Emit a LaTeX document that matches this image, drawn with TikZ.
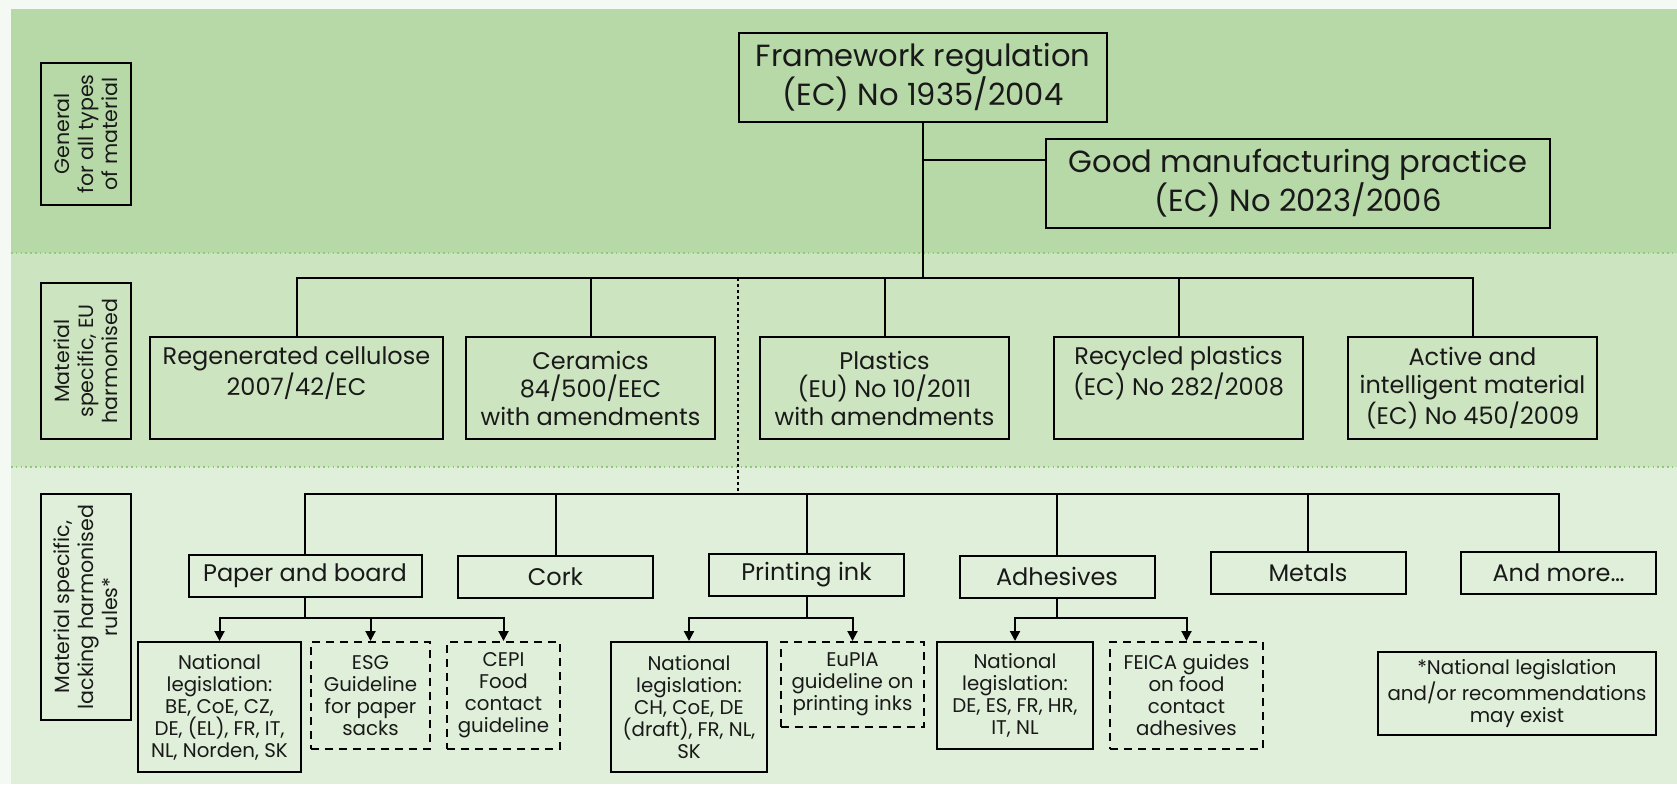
\documentclass[tikz,border=0pt]{standalone}
\usepackage{fontspec}
\setmainfont{Poppins}
\usetikzlibrary{arrows.meta}
\definecolor{outerbg}{HTML}{F4F9F4}
\definecolor{bandA}{HTML}{B7D9A8}
\definecolor{bandB}{HTML}{CCE4BF}
\definecolor{bandC}{HTML}{E0EFD9}
\definecolor{dotgreen}{HTML}{8CCB78}
\tikzset{
  box/.style={draw=black, line width=1pt, align=center, inner sep=1pt, text=black!90},
  dbox/.style={box, dashed, dash pattern=on 4pt off 3pt},
  big/.style={font=\fontsize{15.3}{17}\selectfont},
  mid/.style={font=\fontsize{12}{14}\selectfont},
  sml/.style={font=\fontsize{9.9}{11}\selectfont},
  lbl/.style={box, rotate=90, font=\fontsize{10.3}{12}\selectfont},
  conn/.style={line width=1pt},
  arr/.style={line width=1pt, -{Triangle[length=5pt,width=5pt]}},
  vdots/.style={line width=0.8pt, dash pattern=on 1.5pt off 1.5pt},
  banddot/.style={dotgreen, line width=0.6pt, dash pattern=on 0.8pt off 1.6pt}
}
\begin{document}
\begin{tikzpicture}[x=0.5pt, y=-0.5pt]
\useasboundingbox (0,0) rectangle (1677,784);
\fill[outerbg] (0,0) rectangle (1677,784);
\fill[bandA] (11,9) rectangle (1677,253);
\fill[bandB] (11,253) rectangle (1677,467);
\fill[bandC] (11,467) rectangle (1677,784);
\draw[banddot] (11,253) -- (1677,253);
\draw[banddot] (11,467) -- (1677,467);

% left labels
\node[lbl, minimum width=71pt, minimum height=45pt] (l1) at (86,134) {General\\for all types\\of material};
\node[lbl, minimum width=78pt, minimum height=45pt] (l2) at (86,361) {Material\\specific, EU\\harmonised};
\node[lbl, minimum width=113pt, minimum height=45pt] (l3) at (86,607) {Material specific,\\lacking harmonised\\rules*};

% top
\node[box, big, minimum width=184pt, minimum height=44.5pt] (fw) at (923,77) {Framework regulation\\(EC) No 1935/2004};
\node[box, big, minimum width=252pt, minimum height=44.5pt] (gmp) at (1298,183) {Good manufacturing practice\\(EC) No 2023/2006};

% middle
\node[box, mid, minimum width=146.5pt, minimum height=51pt] (rc) at (296.5,388) {Regenerated cellulose\\2007/42/EC\\\phantom{Xg}};
\node[box, mid, minimum width=124.5pt, minimum height=51pt] (cer) at (590.5,388) {Ceramics\\84/500/EEC\\with amendments};
\node[box, mid, minimum width=124.5pt, minimum height=51pt] (pla) at (884.5,388) {Plastics\\(EU) No 10/2011\\with amendments};
\node[box, mid, minimum width=124.5pt, minimum height=51pt] (rec) at (1178.5,388) {Recycled plastics\\(EC) No 282/2008\\\phantom{Xg}};
\node[box, mid, minimum width=124.5pt, minimum height=51pt] (act) at (1472.5,388) {Active and\\intelligent material\\(EC) No 450/2009};

% bottom categories
\node[box, mid, minimum width=116.5pt, minimum height=21pt] (pb) at (305,576) {Paper and board};
\node[box, mid, minimum width=97.5pt, minimum height=21pt] (cork) at (555.5,577) {Cork};
\node[box, mid, minimum width=97.5pt, minimum height=21pt] (ink) at (806.5,575) {Printing ink};
\node[box, mid, minimum width=97.5pt, minimum height=21pt] (adh) at (1057,576.5) {Adhesives};
\node[box, mid, minimum width=97.5pt, minimum height=21pt] (met) at (1308,573) {Metals};
\node[box, mid, minimum width=97.5pt, minimum height=21pt] (more) at (1558.5,573) {And more…};

% sub boxes
\node[box, sml, minimum width=81.5pt, minimum height=65pt] (pnat) at (219.5,707) {National\\legislation:\\BE, CoE, CZ,\\DE, (EL), FR, IT,\\NL, Norden, SK};
\node[dbox, sml, minimum width=59.5pt, minimum height=53.5pt] (esg) at (370.5,695.5) {ESG\\Guideline\\for paper\\sacks};
\node[dbox, sml, minimum width=56.5pt, minimum height=53.5pt] (cepi) at (503.5,695.5) {CEPI\\Food\\contact\\guideline};
\node[box, sml, minimum width=78pt, minimum height=65pt] (inat) at (689,707) {National\\legislation:\\CH, CoE, DE\\(draft), FR, NL,\\SK};
\node[dbox, sml, minimum width=71.5pt, minimum height=42.5pt] (eupia) at (852.5,684.5) {EuPIA\\guideline on\\printing inks};
\node[box, sml, minimum width=78pt, minimum height=53.5pt, align=left] (anat) at (1015,695.5) {\parbox[c][51pt][t]{76pt}{\centering\vspace*{4.5pt}National\\legislation:\\DE, ES, FR, HR,\\IT, NL}};
\node[dbox, sml, minimum width=76.5pt, minimum height=53.5pt] (feica) at (1186.5,695.5) {FEICA guides\\on food\\contact\\adhesives};
\node[box, sml, minimum width=139pt, minimum height=41.5pt] (foot) at (1517,693.5) {*National legislation\\and/or recommendations\\may exist};

% connectors top
\coordinate (mbar) at (923,278);
\coordinate (gj) at (923,160);
\draw[conn] (fw.south) -- (mbar);
\draw[conn] (gj) -- (gj -| gmp.west);
\draw[conn] (rc.north) |- (mbar) -| (act.north);
\draw[conn] (cer.north) -- (cer.north |- mbar);
\draw[conn] (pla.north) -- (pla.north |- mbar);
\draw[conn] (rec.north) -- (rec.north |- mbar);

% dotted link
\coordinate (dtop) at (738,278);
\coordinate (bbar) at (738,494);
\draw[vdots] (dtop) -- (bbar);

% bottom bar
\draw[conn] (pb.north) |- (bbar) -| (more.north);
\draw[conn] (cork.north) -- (cork.north |- bbar);
\draw[conn] (ink.north) -- (ink.north |- bbar);
\draw[conn] (adh.north) -- (adh.north |- bbar);
\draw[conn] (met.north) -- (met.north |- bbar);

% sub arrows
\coordinate (pj) at (305,618);
\coordinate (ij) at (806.5,618);
\coordinate (aj) at (1057,618);
\draw[conn] (pb.south) -- (pj);
\draw[arr] (pj) -| (pnat.north);
\draw[arr] (pj) -| (esg.north);
\draw[arr] (pj) -| (cepi.north);
\draw[conn] (ink.south) -- (ij);
\draw[arr] (ij) -| (inat.north);
\draw[arr] (ij) -| (eupia.north);
\draw[conn] (adh.south) -- (aj);
\draw[arr] (aj) -| (anat.north);
\draw[arr] (aj) -| (feica.north);
\end{tikzpicture}
\end{document}
